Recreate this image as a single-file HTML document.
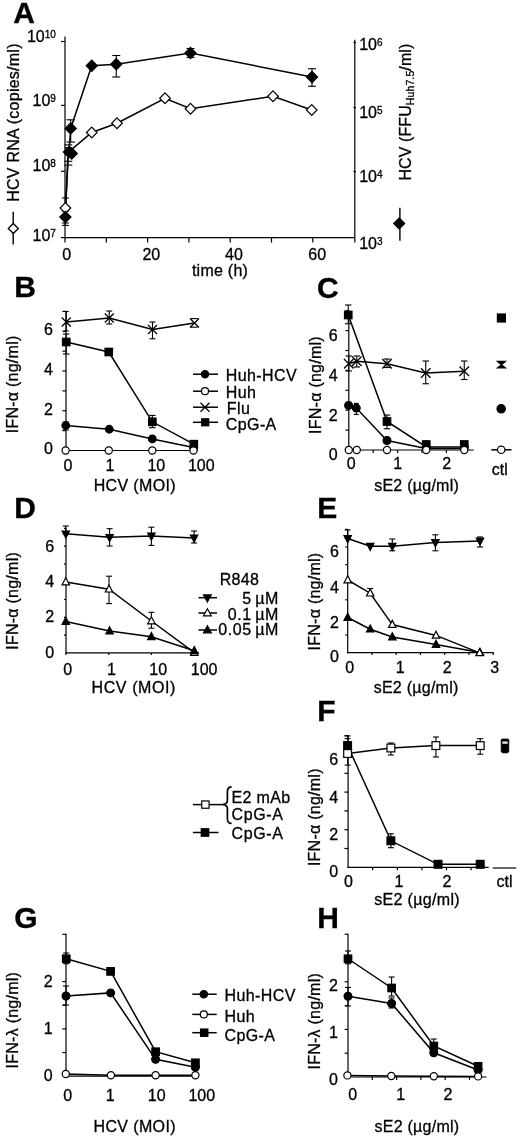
<!DOCTYPE html>
<html><head><meta charset="utf-8"><style>
html,body{margin:0;padding:0;background:#fff;}
svg{display:block;filter:blur(0.4px);}
</style></head><body>
<svg width="520" height="1141" viewBox="0 0 520 1141" stroke="#000" stroke-linecap="butt" font-family="'Liberation Sans', sans-serif" font-size="16">
<rect width="520" height="1141" fill="#fff" stroke="none"/>
<g stroke="none">
</g>
<text x="13.2" y="22.6" font-weight="bold" font-size="30" stroke="#000" stroke-width="0.3">A</text>
<line x1="65" y1="36.5" x2="65" y2="238.2" stroke-width="1.2"/>
<line x1="61" y1="41.5" x2="65" y2="41.5" stroke-width="1.2"/>
<line x1="61" y1="105.4" x2="65" y2="105.4" stroke-width="1.2"/>
<line x1="61" y1="171.3" x2="65" y2="171.3" stroke-width="1.2"/>
<line x1="61" y1="237.6" x2="65" y2="237.6" stroke-width="1.2"/>
<line x1="64.4" y1="237.6" x2="355.2" y2="237.6" stroke-width="1.2"/>
<line x1="65" y1="237.6" x2="65" y2="242.6" stroke-width="1.2"/>
<line x1="106.3" y1="237.6" x2="106.3" y2="242.6" stroke-width="1.2"/>
<line x1="147.6" y1="237.6" x2="147.6" y2="242.6" stroke-width="1.2"/>
<line x1="188.9" y1="237.6" x2="188.9" y2="242.6" stroke-width="1.2"/>
<line x1="230.2" y1="237.6" x2="230.2" y2="242.6" stroke-width="1.2"/>
<line x1="271.5" y1="237.6" x2="271.5" y2="242.6" stroke-width="1.2"/>
<line x1="312.8" y1="237.6" x2="312.8" y2="242.6" stroke-width="1.2"/>
<line x1="354.8" y1="39.8" x2="354.8" y2="242.4" stroke-width="1.2"/>
<line x1="353.5" y1="42.5" x2="356" y2="42.5" stroke-width="1.2"/>
<line x1="353.5" y1="107.6" x2="356" y2="107.6" stroke-width="1.2"/>
<line x1="353.5" y1="171.6" x2="356" y2="171.6" stroke-width="1.2"/>
<text x="55.9" y="42.4" text-anchor="end" stroke="#000" stroke-width="0.3">10<tspan font-size="10" dy="-4">10</tspan></text>
<text x="55.9" y="106.4" text-anchor="end" stroke="#000" stroke-width="0.3">10<tspan font-size="10" dy="-4">9</tspan></text>
<text x="55.9" y="171.4" text-anchor="end" stroke="#000" stroke-width="0.3">10<tspan font-size="10" dy="-4">8</tspan></text>
<text x="55.9" y="240.7" text-anchor="end" stroke="#000" stroke-width="0.3">10<tspan font-size="10" dy="-4">7</tspan></text>
<text x="359.2" y="50.4" stroke="#000" stroke-width="0.3">10<tspan font-size="10" dy="-4">6</tspan></text>
<text x="359.2" y="117.5" stroke="#000" stroke-width="0.3">10<tspan font-size="10" dy="-4">5</tspan></text>
<text x="359.2" y="182.4" stroke="#000" stroke-width="0.3">10<tspan font-size="10" dy="-4">4</tspan></text>
<text x="359.2" y="248.8" stroke="#000" stroke-width="0.3">10<tspan font-size="10" dy="-4">3</tspan></text>
<text x="66.6" y="259.9" text-anchor="middle" stroke="#000" stroke-width="0.3">0</text>
<text x="151.3" y="259.9" text-anchor="middle" stroke="#000" stroke-width="0.3">20</text>
<text x="234" y="259.9" text-anchor="middle" stroke="#000" stroke-width="0.3">40</text>
<text x="317.2" y="259.9" text-anchor="middle" stroke="#000" stroke-width="0.3">60</text>
<text x="220" y="276" text-anchor="middle" letter-spacing="0.25" stroke="#000" stroke-width="0.3">time (h)</text>
<text transform="translate(19 201.8) rotate(-90)" letter-spacing="0.25" stroke="#000" stroke-width="0.3">HCV RNA (copies/ml)</text>
<text transform="translate(411.1 180.6) rotate(-90)" letter-spacing="0.1" stroke="#000" stroke-width="0.3">HCV (FFU<tspan font-size="10.5" dy="3.3">Huh7.5</tspan><tspan dy="-3.3">/ml)</tspan></text>
<line x1="13.2" y1="211.7" x2="13.2" y2="244.6" stroke-width="1.4"/>
<polygon points="13.3,223.5 18.3,228.5 13.3,233.5 8.3,228.5" fill="#fff" stroke-width="1.3"/>
<line x1="399.9" y1="207.8" x2="399.9" y2="240.7" stroke-width="1.4"/>
<polygon points="399.2,218 404.7,223.5 399.2,229 393.7,223.5" fill="#000" stroke-width="1.2"/>
<polyline points="65.4,208 68.5,152.2 91.75,132.5 117,123.25 165,98.25 190.5,108.75 273,96.25 311.75,110" fill="none" stroke-width="1.5"/>
<polyline points="65.4,217 67.7,160 69,152" fill="none" stroke-width="1.5"/>
<polyline points="69,152 70.7,128.4 91.75,65.75 116.25,64.25 190.5,53 312,77" fill="none" stroke-width="1.5"/>
<line x1="61.9" y1="198" x2="68.9" y2="198" stroke-width="1.1"/>
<line x1="65.4" y1="198" x2="65.4" y2="208" stroke-width="1.1"/>
<line x1="65.4" y1="211" x2="65.4" y2="225.4" stroke-width="1.1"/>
<line x1="61.9" y1="211" x2="68.9" y2="211" stroke-width="1.1"/>
<line x1="61.9" y1="225.4" x2="68.9" y2="225.4" stroke-width="1.1"/>
<line x1="61.9" y1="223" x2="68.9" y2="223" stroke-width="1.1"/>
<line x1="70.7" y1="119.8" x2="70.7" y2="142.1" stroke-width="1.1"/>
<line x1="66.45" y1="119.8" x2="74.95" y2="119.8" stroke-width="1.1"/>
<line x1="66.45" y1="142.1" x2="74.95" y2="142.1" stroke-width="1.1"/>
<line x1="64.3" y1="144.9" x2="72.3" y2="144.9" stroke-width="1.1"/>
<line x1="64.3" y1="147.8" x2="72.3" y2="147.8" stroke-width="1.1"/>
<line x1="64.3" y1="161.3" x2="72.3" y2="161.3" stroke-width="1.1"/>
<line x1="64.3" y1="165.1" x2="72.3" y2="165.1" stroke-width="1.1"/>
<line x1="116.25" y1="55.5" x2="116.25" y2="77" stroke-width="1.1"/>
<line x1="112.25" y1="55.5" x2="120.25" y2="55.5" stroke-width="1.1"/>
<line x1="112.25" y1="77" x2="120.25" y2="77" stroke-width="1.1"/>
<line x1="190.5" y1="48.5" x2="190.5" y2="57.5" stroke-width="1.1"/>
<line x1="186.5" y1="48.5" x2="194.5" y2="48.5" stroke-width="1.1"/>
<line x1="186.5" y1="57.5" x2="194.5" y2="57.5" stroke-width="1.1"/>
<line x1="312" y1="68.75" x2="312" y2="86.25" stroke-width="1.1"/>
<line x1="308" y1="68.75" x2="316" y2="68.75" stroke-width="1.1"/>
<line x1="308" y1="86.25" x2="316" y2="86.25" stroke-width="1.1"/>
<polygon points="65.4,202.7 70.7,208 65.4,213.3 60.1,208" fill="#fff" stroke-width="1.2"/>
<polygon points="91.75,127.2 97.05,132.5 91.75,137.8 86.45,132.5" fill="#fff" stroke-width="1.2"/>
<polygon points="117,117.95 122.3,123.25 117,128.55 111.7,123.25" fill="#fff" stroke-width="1.2"/>
<polygon points="165,92.95 170.3,98.25 165,103.55 159.7,98.25" fill="#fff" stroke-width="1.2"/>
<polygon points="190.5,103.45 195.8,108.75 190.5,114.05 185.2,108.75" fill="#fff" stroke-width="1.2"/>
<polygon points="273,90.95 278.3,96.25 273,101.55 267.7,96.25" fill="#fff" stroke-width="1.2"/>
<polygon points="311.75,104.7 317.05,110 311.75,115.3 306.45,110" fill="#fff" stroke-width="1.2"/>
<polygon points="65.4,211.4 71,217 65.4,222.6 59.8,217" fill="#000" stroke-width="1.2"/>
<polygon points="69,146.4 74.6,152 69,157.6 63.4,152" fill="#000" stroke-width="1.2"/>
<polygon points="70.7,122.8 76.3,128.4 70.7,134 65.1,128.4" fill="#000" stroke-width="1.2"/>
<polygon points="91.75,60.15 97.35,65.75 91.75,71.35 86.15,65.75" fill="#000" stroke-width="1.2"/>
<polygon points="116.25,58.65 121.85,64.25 116.25,69.85 110.65,64.25" fill="#000" stroke-width="1.2"/>
<polygon points="190.5,47.4 196.1,53 190.5,58.6 184.9,53" fill="#000" stroke-width="1.2"/>
<polygon points="312,71.4 317.6,77 312,82.6 306.4,77" fill="#000" stroke-width="1.2"/>
<polygon points="71.7,147.9 77.3,153.5 71.7,159.1 66.1,153.5" fill="#000" stroke-width="1.2"/>
<text x="14.3" y="297.2" font-weight="bold" font-size="30" stroke="#000" stroke-width="0.3">B</text>
<line x1="66" y1="310.88" x2="66" y2="451.1" stroke-width="1.2"/>
<line x1="62.4" y1="430.62" x2="66" y2="430.62" stroke-width="1.2"/>
<line x1="62.4" y1="410.75" x2="66" y2="410.75" stroke-width="1.2"/>
<line x1="62.4" y1="390.88" x2="66" y2="390.88" stroke-width="1.2"/>
<line x1="62.4" y1="371" x2="66" y2="371" stroke-width="1.2"/>
<line x1="62.4" y1="351.12" x2="66" y2="351.12" stroke-width="1.2"/>
<line x1="62.4" y1="331.25" x2="66" y2="331.25" stroke-width="1.2"/>
<line x1="62.4" y1="311.38" x2="66" y2="311.38" stroke-width="1.2"/>
<line x1="65.4" y1="450.5" x2="197.7" y2="450.5" stroke-width="1.2"/>
<line x1="109" y1="450.5" x2="109" y2="453" stroke-width="1.2"/>
<line x1="152.3" y1="450.5" x2="152.3" y2="453" stroke-width="1.2"/>
<line x1="193.6" y1="450.5" x2="193.6" y2="453" stroke-width="1.2"/>
<text x="53" y="334.8" text-anchor="end" stroke="#000" stroke-width="0.3">6</text>
<text x="53" y="375.2" text-anchor="end" stroke="#000" stroke-width="0.3">4</text>
<text x="53" y="414.6" text-anchor="end" stroke="#000" stroke-width="0.3">2</text>
<text x="53" y="453.6" text-anchor="end" stroke="#000" stroke-width="0.3">0</text>
<text transform="translate(18.2 433.3) rotate(-90)" letter-spacing="0.25" stroke="#000" stroke-width="0.3">IFN-α (ng/ml)</text>
<text x="63.57" y="470.5" stroke="#000" stroke-width="0.3">0</text>
<text x="105.58" y="470.5" stroke="#000" stroke-width="0.3">1</text>
<text x="147.38" y="470.5" stroke="#000" stroke-width="0.3">10</text>
<text x="187.98" y="470.5" stroke="#000" stroke-width="0.3">100</text>
<text x="93.7" y="491.1" letter-spacing="0.36" stroke="#000" stroke-width="0.3">HCV (MOI)</text>
<line x1="193" y1="374.2" x2="218" y2="374.2" stroke-width="1.5"/>
<circle cx="205" cy="374.2" r="3.6" fill="#000" stroke-width="1.2"/>
<line x1="193" y1="391.2" x2="218" y2="391.2" stroke-width="1.5"/>
<circle cx="205" cy="391.2" r="3.5" fill="#fff" stroke-width="1.2"/>
<line x1="193" y1="407.2" x2="218" y2="407.2" stroke-width="1.5"/>
<line x1="200.5" y1="402.7" x2="209.5" y2="411.7" stroke-width="1.3"/>
<line x1="200.5" y1="411.7" x2="209.5" y2="402.7" stroke-width="1.3"/>
<line x1="193" y1="422.3" x2="218" y2="422.3" stroke-width="1.5"/>
<rect x="201.7" y="418.8" width="7" height="7" fill="#000" stroke-width="1.2"/>
<text x="225.8" y="381" letter-spacing="0.4" stroke="#000" stroke-width="0.3">Huh-HCV</text>
<text x="225.8" y="398" letter-spacing="0.4" stroke="#000" stroke-width="0.3">Huh</text>
<text x="226.8" y="414" letter-spacing="0.4" stroke="#000" stroke-width="0.3">Flu</text>
<text x="225.8" y="430" letter-spacing="0.4" stroke="#000" stroke-width="0.3">CpG-A</text>
<polyline points="66.25,322 109.25,318 152.5,329.5 194.5,323" fill="none" stroke-width="1.5"/>
<polyline points="66.25,342 108.75,352 152.3,421.8 193.8,444.2" fill="none" stroke-width="1.5"/>
<polyline points="65.75,425.5 109.25,429.25 152.3,438.9 193.6,447.5" fill="none" stroke-width="1.5"/>
<line x1="66.25" y1="311.5" x2="66.25" y2="331" stroke-width="1.1"/>
<line x1="63.75" y1="311.5" x2="68.75" y2="311.5" stroke-width="1.1"/>
<line x1="63.75" y1="331" x2="68.75" y2="331" stroke-width="1.1"/>
<line x1="109.25" y1="311" x2="109.25" y2="324" stroke-width="1.1"/>
<line x1="106.25" y1="311" x2="112.25" y2="311" stroke-width="1.1"/>
<line x1="106.25" y1="324" x2="112.25" y2="324" stroke-width="1.1"/>
<line x1="152.5" y1="322" x2="152.5" y2="338.75" stroke-width="1.1"/>
<line x1="149.5" y1="322" x2="155.5" y2="322" stroke-width="1.1"/>
<line x1="149.5" y1="338.75" x2="155.5" y2="338.75" stroke-width="1.1"/>
<line x1="190.7" y1="318.6" x2="197.7" y2="318.6" stroke-width="1.1"/>
<line x1="190.7" y1="327.2" x2="197.7" y2="327.2" stroke-width="1.1"/>
<line x1="66.25" y1="334" x2="66.25" y2="354" stroke-width="1.1"/>
<line x1="63" y1="334" x2="69.5" y2="334" stroke-width="1.1"/>
<line x1="63" y1="354" x2="69.5" y2="354" stroke-width="1.1"/>
<line x1="152.3" y1="415.4" x2="152.3" y2="427.7" stroke-width="1.1"/>
<line x1="149.05" y1="415.4" x2="155.55" y2="415.4" stroke-width="1.1"/>
<line x1="149.05" y1="427.7" x2="155.55" y2="427.7" stroke-width="1.1"/>
<line x1="65.75" y1="422" x2="65.75" y2="430" stroke-width="1.1"/>
<line x1="62.75" y1="422" x2="68.75" y2="422" stroke-width="1.1"/>
<line x1="62.75" y1="430" x2="68.75" y2="430" stroke-width="1.1"/>
<line x1="61.75" y1="317.5" x2="70.75" y2="326.5" stroke-width="1.3"/>
<line x1="61.75" y1="326.5" x2="70.75" y2="317.5" stroke-width="1.3"/>
<line x1="104.75" y1="313.5" x2="113.75" y2="322.5" stroke-width="1.3"/>
<line x1="104.75" y1="322.5" x2="113.75" y2="313.5" stroke-width="1.3"/>
<line x1="148" y1="325" x2="157" y2="334" stroke-width="1.3"/>
<line x1="148" y1="334" x2="157" y2="325" stroke-width="1.3"/>
<line x1="190" y1="318.5" x2="199" y2="327.5" stroke-width="1.3"/>
<line x1="190" y1="327.5" x2="199" y2="318.5" stroke-width="1.3"/>
<rect x="62.5" y="338.25" width="7.5" height="7.5" fill="#000" stroke-width="1.2"/>
<rect x="105" y="348.25" width="7.5" height="7.5" fill="#000" stroke-width="1.2"/>
<rect x="148.55" y="418.05" width="7.5" height="7.5" fill="#000" stroke-width="1.2"/>
<rect x="190.05" y="440.45" width="7.5" height="7.5" fill="#000" stroke-width="1.2"/>
<circle cx="65.75" cy="425.5" r="3.8" fill="#000" stroke-width="1.2"/>
<circle cx="109.25" cy="429.25" r="3.8" fill="#000" stroke-width="1.2"/>
<circle cx="152.3" cy="438.9" r="3.8" fill="#000" stroke-width="1.2"/>
<circle cx="193.6" cy="447.5" r="3.8" fill="#000" stroke-width="1.2"/>
<circle cx="65.6" cy="450.5" r="3.6" fill="#fff" stroke-width="1.2"/>
<circle cx="108.8" cy="450.5" r="3.6" fill="#fff" stroke-width="1.2"/>
<circle cx="152.3" cy="450.5" r="3.6" fill="#fff" stroke-width="1.2"/>
<circle cx="193.5" cy="450.5" r="3.6" fill="#fff" stroke-width="1.2"/>
<text x="316.9" y="297.5" font-weight="bold" font-size="30" stroke="#000" stroke-width="0.3">C</text>
<line x1="348.8" y1="310.2" x2="348.8" y2="450.6" stroke-width="1.2"/>
<line x1="345.4" y1="430.1" x2="348.8" y2="430.1" stroke-width="1.2"/>
<line x1="345.4" y1="410.2" x2="348.8" y2="410.2" stroke-width="1.2"/>
<line x1="345.4" y1="390.3" x2="348.8" y2="390.3" stroke-width="1.2"/>
<line x1="345.4" y1="370.4" x2="348.8" y2="370.4" stroke-width="1.2"/>
<line x1="345.4" y1="350.5" x2="348.8" y2="350.5" stroke-width="1.2"/>
<line x1="345.4" y1="330.6" x2="348.8" y2="330.6" stroke-width="1.2"/>
<line x1="345.4" y1="310.7" x2="348.8" y2="310.7" stroke-width="1.2"/>
<line x1="348.2" y1="450" x2="473.6" y2="450" stroke-width="1.2"/>
<line x1="373.2" y1="450" x2="373.2" y2="453" stroke-width="1.2"/>
<line x1="397.6" y1="450" x2="397.6" y2="453" stroke-width="1.2"/>
<line x1="422" y1="450" x2="422" y2="453" stroke-width="1.2"/>
<line x1="446.4" y1="450" x2="446.4" y2="453" stroke-width="1.2"/>
<text x="337.6" y="341.4" text-anchor="end" stroke="#000" stroke-width="0.3">6</text>
<text x="337.6" y="381.2" text-anchor="end" stroke="#000" stroke-width="0.3">4</text>
<text x="337.6" y="420.8" text-anchor="end" stroke="#000" stroke-width="0.3">2</text>
<text x="337.6" y="460.2" text-anchor="end" stroke="#000" stroke-width="0.3">0</text>
<text transform="translate(320.8 433.9) rotate(-90)" letter-spacing="0.25" stroke="#000" stroke-width="0.3">IFN-α (ng/ml)</text>
<text x="346.87" y="468.9" stroke="#000" stroke-width="0.3">0</text>
<text x="393.28" y="468.9" stroke="#000" stroke-width="0.3">1</text>
<text x="442.2" y="468.9" stroke="#000" stroke-width="0.3">2</text>
<text x="374.2" y="490.6" letter-spacing="0.25" stroke="#000" stroke-width="0.3">sE2 (µg/ml)</text>
<rect x="497.4" y="314" width="8" height="8" fill="#000" stroke-width="1.2"/>
<polygon points="497.3,361.4 505.6,361.4 501.45,364.7 505.6,368 497.3,368 501.45,364.7" fill="#000" stroke-width="1.1"/>
<circle cx="501.2" cy="408.8" r="4.2" fill="#000" stroke-width="1.2"/>
<line x1="491.3" y1="449.8" x2="511.5" y2="449.8" stroke-width="1.5"/>
<circle cx="501.2" cy="449.8" r="3.7" fill="#fff" stroke-width="1.2"/>
<text x="491.8" y="474.6" stroke="#000" stroke-width="0.3">ctl</text>
<polyline points="348.25,315 387,421.5 426.25,446.9 464.25,446.9" fill="none" stroke-width="1.5"/>
<polyline points="348.75,363.75 356.75,361.25 387,363.75 425.75,373 464.25,371.25" fill="none" stroke-width="1.5"/>
<polyline points="348.6,405.4 356.3,408.1 387,440.5 426.25,448.4 464.25,448.4" fill="none" stroke-width="1.5"/>
<line x1="348.25" y1="305" x2="348.25" y2="323.75" stroke-width="1.1"/>
<line x1="345" y1="305" x2="351.5" y2="305" stroke-width="1.1"/>
<line x1="345" y1="323.75" x2="351.5" y2="323.75" stroke-width="1.1"/>
<line x1="387" y1="415" x2="387" y2="428.75" stroke-width="1.1"/>
<line x1="383.75" y1="415" x2="390.25" y2="415" stroke-width="1.1"/>
<line x1="383.75" y1="428.75" x2="390.25" y2="428.75" stroke-width="1.1"/>
<line x1="348.75" y1="356" x2="348.75" y2="371" stroke-width="1.1"/>
<line x1="345.5" y1="356" x2="352" y2="356" stroke-width="1.1"/>
<line x1="345.5" y1="371" x2="352" y2="371" stroke-width="1.1"/>
<line x1="356.75" y1="356" x2="356.75" y2="367" stroke-width="1.1"/>
<line x1="353.5" y1="356" x2="360" y2="356" stroke-width="1.1"/>
<line x1="353.5" y1="367" x2="360" y2="367" stroke-width="1.1"/>
<line x1="387" y1="359" x2="387" y2="367.5" stroke-width="1.1"/>
<line x1="383.75" y1="359" x2="390.25" y2="359" stroke-width="1.1"/>
<line x1="383.75" y1="367.5" x2="390.25" y2="367.5" stroke-width="1.1"/>
<line x1="425.75" y1="361" x2="425.75" y2="383.75" stroke-width="1.1"/>
<line x1="422.5" y1="361" x2="429" y2="361" stroke-width="1.1"/>
<line x1="422.5" y1="383.75" x2="429" y2="383.75" stroke-width="1.1"/>
<line x1="464.25" y1="361" x2="464.25" y2="379.5" stroke-width="1.1"/>
<line x1="461" y1="361" x2="467.5" y2="361" stroke-width="1.1"/>
<line x1="461" y1="379.5" x2="467.5" y2="379.5" stroke-width="1.1"/>
<line x1="356.3" y1="403.4" x2="356.3" y2="414.5" stroke-width="1.1"/>
<line x1="353.8" y1="403.4" x2="358.8" y2="403.4" stroke-width="1.1"/>
<line x1="353.8" y1="414.5" x2="358.8" y2="414.5" stroke-width="1.1"/>
<line x1="343.95" y1="358.95" x2="353.55" y2="368.55" stroke-width="1.3"/>
<line x1="343.95" y1="368.55" x2="353.55" y2="358.95" stroke-width="1.3"/>
<line x1="351.95" y1="356.45" x2="361.55" y2="366.05" stroke-width="1.3"/>
<line x1="351.95" y1="366.05" x2="361.55" y2="356.45" stroke-width="1.3"/>
<line x1="382.2" y1="358.95" x2="391.8" y2="368.55" stroke-width="1.3"/>
<line x1="382.2" y1="368.55" x2="391.8" y2="358.95" stroke-width="1.3"/>
<line x1="420.95" y1="368.2" x2="430.55" y2="377.8" stroke-width="1.3"/>
<line x1="420.95" y1="377.8" x2="430.55" y2="368.2" stroke-width="1.3"/>
<line x1="459.45" y1="366.45" x2="469.05" y2="376.05" stroke-width="1.3"/>
<line x1="459.45" y1="376.05" x2="469.05" y2="366.45" stroke-width="1.3"/>
<rect x="344.5" y="311.25" width="7.5" height="7.5" fill="#000" stroke-width="1.2"/>
<rect x="383.25" y="417.75" width="7.5" height="7.5" fill="#000" stroke-width="1.2"/>
<rect x="422.5" y="440.75" width="7.5" height="7.5" fill="#000" stroke-width="1.2"/>
<rect x="460.5" y="440.75" width="7.5" height="7.5" fill="#000" stroke-width="1.2"/>
<circle cx="348.6" cy="405.4" r="3.9" fill="#000" stroke-width="1.2"/>
<circle cx="356.3" cy="408.1" r="3.9" fill="#000" stroke-width="1.2"/>
<circle cx="387" cy="440.5" r="3.9" fill="#000" stroke-width="1.2"/>
<circle cx="426.25" cy="447.3" r="3.9" fill="#000" stroke-width="1.2"/>
<circle cx="464.25" cy="447.3" r="3.9" fill="#000" stroke-width="1.2"/>
<circle cx="348.75" cy="450" r="3.6" fill="#fff" stroke-width="1.2"/>
<circle cx="356.75" cy="450" r="3.6" fill="#fff" stroke-width="1.2"/>
<circle cx="387" cy="450" r="3.6" fill="#fff" stroke-width="1.2"/>
<circle cx="426.25" cy="450" r="3.6" fill="#fff" stroke-width="1.2"/>
<circle cx="464.25" cy="450" r="3.6" fill="#fff" stroke-width="1.2"/>
<text x="14.3" y="517.5" font-weight="bold" font-size="30" stroke="#000" stroke-width="0.3">D</text>
<line x1="66" y1="527.8" x2="66" y2="653.5" stroke-width="1.2"/>
<line x1="64" y1="635.1" x2="66" y2="635.1" stroke-width="1.2"/>
<line x1="64" y1="617.3" x2="66" y2="617.3" stroke-width="1.2"/>
<line x1="64" y1="599.5" x2="66" y2="599.5" stroke-width="1.2"/>
<line x1="64" y1="581.7" x2="66" y2="581.7" stroke-width="1.2"/>
<line x1="64" y1="563.9" x2="66" y2="563.9" stroke-width="1.2"/>
<line x1="64" y1="546.1" x2="66" y2="546.1" stroke-width="1.2"/>
<line x1="64" y1="528.3" x2="66" y2="528.3" stroke-width="1.2"/>
<line x1="65.4" y1="652.9" x2="199" y2="652.9" stroke-width="1.2"/>
<line x1="66" y1="652.9" x2="66" y2="654.9" stroke-width="1.2"/>
<line x1="108.8" y1="652.9" x2="108.8" y2="654.9" stroke-width="1.2"/>
<line x1="151.4" y1="652.9" x2="151.4" y2="654.9" stroke-width="1.2"/>
<line x1="194.1" y1="652.9" x2="194.1" y2="654.9" stroke-width="1.2"/>
<text x="54.1" y="551.5" text-anchor="end" stroke="#000" stroke-width="0.3">6</text>
<text x="54.1" y="586.9" text-anchor="end" stroke="#000" stroke-width="0.3">4</text>
<text x="54.1" y="622.2" text-anchor="end" stroke="#000" stroke-width="0.3">2</text>
<text x="54.1" y="657.5" text-anchor="end" stroke="#000" stroke-width="0.3">0</text>
<text transform="translate(18.2 649.8) rotate(-90)" letter-spacing="0.25" stroke="#000" stroke-width="0.3">IFN-α (ng/ml)</text>
<text x="63.17" y="674.6" stroke="#000" stroke-width="0.3">0</text>
<text x="106.98" y="674.6" stroke="#000" stroke-width="0.3">1</text>
<text x="149.28" y="674.6" stroke="#000" stroke-width="0.3">10</text>
<text x="190.78" y="674.6" stroke="#000" stroke-width="0.3">100</text>
<text x="91.5" y="693.1" letter-spacing="0.6" stroke="#000" stroke-width="0.3">HCV (MOI)</text>
<text x="219.8" y="584.9" letter-spacing="0.25" stroke="#000" stroke-width="0.3">R848</text>
<line x1="198.5" y1="597.7" x2="217" y2="597.7" stroke-width="1.5"/>
<polygon points="207.4,601.9 211.3,594.9 203.5,594.9" fill="#000" stroke-width="1.2"/>
<line x1="198.5" y1="613" x2="217" y2="613" stroke-width="1.5"/>
<polygon points="207.4,608.8 211.3,615.8 203.5,615.8" fill="#fff" stroke-width="1.2"/>
<line x1="198.5" y1="630" x2="217" y2="630" stroke-width="1.5"/>
<polygon points="207.4,625.8 211.3,632.8 203.5,632.8" fill="#000" stroke-width="1.2"/>
<text x="251.7" y="604.4" text-anchor="end" letter-spacing="0.6" stroke="#000" stroke-width="0.3">5</text>
<text x="255.2" y="604.4" letter-spacing="0.6" stroke="#000" stroke-width="0.3">µM</text>
<text x="251.7" y="619.8" text-anchor="end" letter-spacing="0.6" stroke="#000" stroke-width="0.3">0.1</text>
<text x="255.2" y="619.8" letter-spacing="0.6" stroke="#000" stroke-width="0.3">µM</text>
<text x="251.7" y="635.2" text-anchor="end" letter-spacing="0.6" stroke="#000" stroke-width="0.3">0.05</text>
<text x="255.2" y="635.2" letter-spacing="0.6" stroke="#000" stroke-width="0.3">µM</text>
<polyline points="65.8,533.8 109.6,537.3 151.4,535.9 194.1,537.9" fill="none" stroke-width="1.5"/>
<polyline points="65.8,582 109,589.2 151.4,621 194.3,652.6" fill="none" stroke-width="1.5"/>
<polyline points="65.8,621.5 109.6,631 151.4,636.8 194.3,650.8" fill="none" stroke-width="1.5"/>
<line x1="65.8" y1="526" x2="65.8" y2="534" stroke-width="1.1"/>
<line x1="62.8" y1="526" x2="68.8" y2="526" stroke-width="1.1"/>
<line x1="62.8" y1="534" x2="68.8" y2="534" stroke-width="1.1"/>
<line x1="109.6" y1="528.7" x2="109.6" y2="546" stroke-width="1.1"/>
<line x1="106.6" y1="528.7" x2="112.6" y2="528.7" stroke-width="1.1"/>
<line x1="106.6" y1="546" x2="112.6" y2="546" stroke-width="1.1"/>
<line x1="151.4" y1="527.2" x2="151.4" y2="545.4" stroke-width="1.1"/>
<line x1="148.4" y1="527.2" x2="154.4" y2="527.2" stroke-width="1.1"/>
<line x1="148.4" y1="545.4" x2="154.4" y2="545.4" stroke-width="1.1"/>
<line x1="194.1" y1="531" x2="194.1" y2="543" stroke-width="1.1"/>
<line x1="191.1" y1="531" x2="197.1" y2="531" stroke-width="1.1"/>
<line x1="191.1" y1="543" x2="197.1" y2="543" stroke-width="1.1"/>
<line x1="109" y1="576.2" x2="109" y2="603.6" stroke-width="1.1"/>
<line x1="106" y1="576.2" x2="112" y2="576.2" stroke-width="1.1"/>
<line x1="106" y1="603.6" x2="112" y2="603.6" stroke-width="1.1"/>
<line x1="151.4" y1="612.3" x2="151.4" y2="628.2" stroke-width="1.1"/>
<line x1="148.4" y1="612.3" x2="154.4" y2="612.3" stroke-width="1.1"/>
<line x1="148.4" y1="628.2" x2="154.4" y2="628.2" stroke-width="1.1"/>
<polygon points="65.8,577.8 69.5,584.8 62.1,584.8" fill="#fff" stroke-width="1.2"/>
<polygon points="109,585 112.7,592 105.3,592" fill="#fff" stroke-width="1.2"/>
<polygon points="151.4,616.8 155.1,623.8 147.7,623.8" fill="#fff" stroke-width="1.2"/>
<polygon points="194.3,648.4 198,655.4 190.6,655.4" fill="#fff" stroke-width="1.2"/>
<polygon points="65.8,617.3 69.5,624.3 62.1,624.3" fill="#000" stroke-width="1.2"/>
<polygon points="109.6,626.8 113.3,633.8 105.9,633.8" fill="#000" stroke-width="1.2"/>
<polygon points="151.4,632.6 155.1,639.6 147.7,639.6" fill="#000" stroke-width="1.2"/>
<polygon points="194.3,646.6 198,653.6 190.6,653.6" fill="#000" stroke-width="1.2"/>
<polygon points="65.8,538 69.5,531 62.1,531" fill="#000" stroke-width="1.2"/>
<polygon points="109.6,541.5 113.3,534.5 105.9,534.5" fill="#000" stroke-width="1.2"/>
<polygon points="151.4,540.1 155.1,533.1 147.7,533.1" fill="#000" stroke-width="1.2"/>
<polygon points="194.1,542.1 197.8,535.1 190.4,535.1" fill="#000" stroke-width="1.2"/>
<text x="317.3" y="517.5" font-weight="bold" font-size="30" stroke="#000" stroke-width="0.3">E</text>
<line x1="347.7" y1="528.9" x2="347.7" y2="653.2" stroke-width="1.2"/>
<line x1="345.3" y1="635" x2="347.7" y2="635" stroke-width="1.2"/>
<line x1="345.3" y1="617.4" x2="347.7" y2="617.4" stroke-width="1.2"/>
<line x1="345.3" y1="599.8" x2="347.7" y2="599.8" stroke-width="1.2"/>
<line x1="345.3" y1="582.2" x2="347.7" y2="582.2" stroke-width="1.2"/>
<line x1="345.3" y1="564.6" x2="347.7" y2="564.6" stroke-width="1.2"/>
<line x1="345.3" y1="547" x2="347.7" y2="547" stroke-width="1.2"/>
<line x1="345.3" y1="529.4" x2="347.7" y2="529.4" stroke-width="1.2"/>
<line x1="347.1" y1="652.6" x2="493.8" y2="652.6" stroke-width="1.2"/>
<line x1="371.95" y1="652.6" x2="371.95" y2="655.1" stroke-width="1.2"/>
<line x1="396.2" y1="652.6" x2="396.2" y2="655.1" stroke-width="1.2"/>
<line x1="420.45" y1="652.6" x2="420.45" y2="655.1" stroke-width="1.2"/>
<line x1="444.7" y1="652.6" x2="444.7" y2="655.1" stroke-width="1.2"/>
<line x1="468.95" y1="652.6" x2="468.95" y2="655.1" stroke-width="1.2"/>
<line x1="493.2" y1="652.6" x2="493.2" y2="655.1" stroke-width="1.2"/>
<text x="338.9" y="557.2" text-anchor="end" stroke="#000" stroke-width="0.3">6</text>
<text x="338.9" y="592.8" text-anchor="end" stroke="#000" stroke-width="0.3">4</text>
<text x="338.9" y="627.6" text-anchor="end" stroke="#000" stroke-width="0.3">2</text>
<text x="338.9" y="661.9" text-anchor="end" stroke="#000" stroke-width="0.3">0</text>
<text transform="translate(320.2 650.4) rotate(-90)" letter-spacing="0.25" stroke="#000" stroke-width="0.3">IFN-α (ng/ml)</text>
<text x="345.17" y="673.2" stroke="#000" stroke-width="0.3">0</text>
<text x="395.78" y="673.2" stroke="#000" stroke-width="0.3">1</text>
<text x="442.7" y="673.2" stroke="#000" stroke-width="0.3">2</text>
<text x="490.19" y="673.2" stroke="#000" stroke-width="0.3">3</text>
<text x="373.7" y="692.6" letter-spacing="0.25" stroke="#000" stroke-width="0.3">sE2 (µg/ml)</text>
<polyline points="347.7,538.5 370.2,546.2 392.3,546.2 435.4,542.5 480,541" fill="none" stroke-width="1.5"/>
<polyline points="347.7,580 370.2,593.2 392.3,624.6 436,635.4 479.6,652.9" fill="none" stroke-width="1.5"/>
<polyline points="347.7,617.5 370.2,629.2 392.3,637 436,644.6 480,652.6" fill="none" stroke-width="1.5"/>
<line x1="392.3" y1="539" x2="392.3" y2="550.8" stroke-width="1.1"/>
<line x1="389.3" y1="539" x2="395.3" y2="539" stroke-width="1.1"/>
<line x1="389.3" y1="550.8" x2="395.3" y2="550.8" stroke-width="1.1"/>
<line x1="435.4" y1="534.8" x2="435.4" y2="550.8" stroke-width="1.1"/>
<line x1="432.4" y1="534.8" x2="438.4" y2="534.8" stroke-width="1.1"/>
<line x1="432.4" y1="550.8" x2="438.4" y2="550.8" stroke-width="1.1"/>
<line x1="480" y1="537" x2="480" y2="547" stroke-width="1.1"/>
<line x1="477" y1="537" x2="483" y2="537" stroke-width="1.1"/>
<line x1="477" y1="547" x2="483" y2="547" stroke-width="1.1"/>
<line x1="347.7" y1="530" x2="347.7" y2="538" stroke-width="1.1"/>
<line x1="344.7" y1="530" x2="350.7" y2="530" stroke-width="1.1"/>
<line x1="344.7" y1="538" x2="350.7" y2="538" stroke-width="1.1"/>
<line x1="367.2" y1="588.5" x2="373.2" y2="588.5" stroke-width="1.1"/>
<line x1="370.2" y1="588.5" x2="370.2" y2="593" stroke-width="1.1"/>
<polygon points="347.7,613.3 351.4,620.3 344,620.3" fill="#000" stroke-width="1.2"/>
<polygon points="370.2,625 373.9,632 366.5,632" fill="#000" stroke-width="1.2"/>
<polygon points="392.3,632.8 396,639.8 388.6,639.8" fill="#000" stroke-width="1.2"/>
<polygon points="436,640.4 439.7,647.4 432.3,647.4" fill="#000" stroke-width="1.2"/>
<polygon points="480,648.4 483.7,655.4 476.3,655.4" fill="#000" stroke-width="1.2"/>
<polygon points="347.7,575.8 351.4,582.8 344,582.8" fill="#fff" stroke-width="1.2"/>
<polygon points="370.2,589 373.9,596 366.5,596" fill="#fff" stroke-width="1.2"/>
<polygon points="392.3,620.4 396,627.4 388.6,627.4" fill="#fff" stroke-width="1.2"/>
<polygon points="436,631.2 439.7,638.2 432.3,638.2" fill="#fff" stroke-width="1.2"/>
<polygon points="479.6,648.7 483.3,655.7 475.9,655.7" fill="#fff" stroke-width="1.2"/>
<polygon points="347.7,542.7 351.4,535.7 344,535.7" fill="#000" stroke-width="1.2"/>
<polygon points="370.2,550.4 373.9,543.4 366.5,543.4" fill="#000" stroke-width="1.2"/>
<polygon points="392.3,550.4 396,543.4 388.6,543.4" fill="#000" stroke-width="1.2"/>
<polygon points="435.4,546.7 439.1,539.7 431.7,539.7" fill="#000" stroke-width="1.2"/>
<polygon points="480,545.2 483.7,538.2 476.3,538.2" fill="#000" stroke-width="1.2"/>
<text x="317.3" y="721.4" font-weight="bold" font-size="30" stroke="#000" stroke-width="0.3">F</text>
<line x1="348.1" y1="735.2" x2="348.1" y2="867.9" stroke-width="1.2"/>
<line x1="344.4" y1="848.5" x2="348.1" y2="848.5" stroke-width="1.2"/>
<line x1="344.4" y1="829.7" x2="348.1" y2="829.7" stroke-width="1.2"/>
<line x1="344.4" y1="810.9" x2="348.1" y2="810.9" stroke-width="1.2"/>
<line x1="344.4" y1="792.1" x2="348.1" y2="792.1" stroke-width="1.2"/>
<line x1="344.4" y1="773.3" x2="348.1" y2="773.3" stroke-width="1.2"/>
<line x1="344.4" y1="754.5" x2="348.1" y2="754.5" stroke-width="1.2"/>
<line x1="344.4" y1="735.7" x2="348.1" y2="735.7" stroke-width="1.2"/>
<line x1="347.5" y1="867.3" x2="488.6" y2="867.3" stroke-width="1.2"/>
<line x1="492.7" y1="868" x2="516.3" y2="868" stroke-width="1.2"/>
<line x1="372.7" y1="867.3" x2="372.7" y2="870.3" stroke-width="1.2"/>
<line x1="397.3" y1="867.3" x2="397.3" y2="870.3" stroke-width="1.2"/>
<line x1="421.9" y1="867.3" x2="421.9" y2="870.3" stroke-width="1.2"/>
<line x1="446.5" y1="867.3" x2="446.5" y2="870.3" stroke-width="1.2"/>
<line x1="471.1" y1="867.3" x2="471.1" y2="870.3" stroke-width="1.2"/>
<text x="338.2" y="764.8" text-anchor="end" stroke="#000" stroke-width="0.3">6</text>
<text x="338.2" y="802.8" text-anchor="end" stroke="#000" stroke-width="0.3">4</text>
<text x="338.2" y="840.2" text-anchor="end" stroke="#000" stroke-width="0.3">2</text>
<text x="338.2" y="876.8" text-anchor="end" stroke="#000" stroke-width="0.3">0</text>
<text transform="translate(320.2 866.1) rotate(-90)" letter-spacing="0.25" stroke="#000" stroke-width="0.3">IFN-α (ng/ml)</text>
<text x="343.97" y="886.6" stroke="#000" stroke-width="0.3">0</text>
<text x="394.58" y="886.6" stroke="#000" stroke-width="0.3">1</text>
<text x="442.5" y="886.6" stroke="#000" stroke-width="0.3">2</text>
<text x="496.6" y="886.6" stroke="#000" stroke-width="0.3">ctl</text>
<text x="374.2" y="905.3" letter-spacing="0.33" stroke="#000" stroke-width="0.3">sE2 (µg/ml)</text>
<line x1="192.9" y1="804.6" x2="223.7" y2="804.6" stroke-width="1.5"/>
<rect x="201.75" y="800.95" width="7.3" height="7.3" fill="#fff" stroke-width="1.2"/>
<path d="M231.6,786.9 C228.2,786.9 227.4,788.6 227.4,792 L227.4,800.6 C227.4,803.2 225.6,804.3 223,804.6 C225.6,804.9 227.4,806 227.4,808.6 L227.4,818.4 C227.4,821.8 228.2,823.3 231.6,823.3" fill="none" stroke-width="1.7"/>
<text x="231.5" y="803.3" letter-spacing="0.35" stroke="#000" stroke-width="0.3">E2 mAb</text>
<text x="231.5" y="820.2" letter-spacing="0.6" stroke="#000" stroke-width="0.3">CpG-A</text>
<line x1="192.9" y1="832.5" x2="218.5" y2="832.5" stroke-width="1.5"/>
<rect x="201.25" y="828.75" width="7.5" height="7.5" fill="#000" stroke-width="1.2"/>
<text x="231.5" y="839.4" letter-spacing="0.6" stroke="#000" stroke-width="0.3">CpG-A</text>
<polyline points="347.6,753.5 390.9,748 435.9,745.6 480.2,745.6" fill="none" stroke-width="1.5"/>
<polyline points="347.6,745.6 390.9,840.8 438,864.3 480.2,864.3" fill="none" stroke-width="1.5"/>
<line x1="347.6" y1="735.9" x2="347.6" y2="765.1" stroke-width="1.1"/>
<line x1="344.6" y1="735.9" x2="350.6" y2="735.9" stroke-width="1.1"/>
<line x1="344.6" y1="765.1" x2="350.6" y2="765.1" stroke-width="1.1"/>
<line x1="344.6" y1="738.6" x2="350.6" y2="738.6" stroke-width="1.1"/>
<line x1="390.9" y1="743" x2="390.9" y2="755" stroke-width="1.1"/>
<line x1="387.9" y1="743" x2="393.9" y2="743" stroke-width="1.1"/>
<line x1="387.9" y1="755" x2="393.9" y2="755" stroke-width="1.1"/>
<line x1="435.9" y1="737" x2="435.9" y2="757" stroke-width="1.1"/>
<line x1="432.9" y1="737" x2="438.9" y2="737" stroke-width="1.1"/>
<line x1="432.9" y1="757" x2="438.9" y2="757" stroke-width="1.1"/>
<line x1="480.2" y1="738.7" x2="480.2" y2="754.2" stroke-width="1.1"/>
<line x1="477.2" y1="738.7" x2="483.2" y2="738.7" stroke-width="1.1"/>
<line x1="477.2" y1="754.2" x2="483.2" y2="754.2" stroke-width="1.1"/>
<line x1="390.9" y1="833.8" x2="390.9" y2="847.7" stroke-width="1.1"/>
<line x1="387.9" y1="833.8" x2="393.9" y2="833.8" stroke-width="1.1"/>
<line x1="387.9" y1="847.7" x2="393.9" y2="847.7" stroke-width="1.1"/>
<rect x="501.2" y="739" width="7.6" height="13.4" rx="1.2" fill="#000" stroke-width="0.8"/>
<rect x="502.4" y="741.6" width="5.2" height="2.1" fill="#fff" stroke="none"/>
<line x1="502.5" y1="752.8" x2="507.5" y2="752.8" stroke-width="1.1"/>
<rect x="343.7" y="741.7" width="7.8" height="7.8" fill="#000" stroke-width="1.2"/>
<rect x="387" y="836.9" width="7.8" height="7.8" fill="#000" stroke-width="1.2"/>
<rect x="434.1" y="860.4" width="7.8" height="7.8" fill="#000" stroke-width="1.2"/>
<rect x="476.3" y="860.4" width="7.8" height="7.8" fill="#000" stroke-width="1.2"/>
<rect x="343.7" y="749.6" width="7.8" height="7.8" fill="#fff" stroke-width="1.2"/>
<rect x="387" y="744.1" width="7.8" height="7.8" fill="#fff" stroke-width="1.2"/>
<rect x="432" y="741.7" width="7.8" height="7.8" fill="#fff" stroke-width="1.2"/>
<rect x="476.3" y="741.7" width="7.8" height="7.8" fill="#fff" stroke-width="1.2"/>
<text x="14.2" y="927.5" font-weight="bold" font-size="30" stroke="#000" stroke-width="0.3">G</text>
<line x1="66" y1="933.8" x2="66" y2="1076.8" stroke-width="1.2"/>
<line x1="62.3" y1="1052.55" x2="66" y2="1052.55" stroke-width="1.2"/>
<line x1="62.3" y1="1028.9" x2="66" y2="1028.9" stroke-width="1.2"/>
<line x1="62.3" y1="1005.25" x2="66" y2="1005.25" stroke-width="1.2"/>
<line x1="62.3" y1="981.6" x2="66" y2="981.6" stroke-width="1.2"/>
<line x1="62.3" y1="957.95" x2="66" y2="957.95" stroke-width="1.2"/>
<line x1="62.3" y1="934.3" x2="66" y2="934.3" stroke-width="1.2"/>
<line x1="65.4" y1="1076.2" x2="199" y2="1076.2" stroke-width="1.2"/>
<line x1="110.6" y1="1076.2" x2="110.6" y2="1078.2" stroke-width="1.2"/>
<line x1="155.6" y1="1076.2" x2="155.6" y2="1078.2" stroke-width="1.2"/>
<line x1="195.4" y1="1076.2" x2="195.4" y2="1078.2" stroke-width="1.2"/>
<text x="52.7" y="986.7" text-anchor="end" stroke="#000" stroke-width="0.3">2</text>
<text x="52.7" y="1034.3" text-anchor="end" stroke="#000" stroke-width="0.3">1</text>
<text x="52.7" y="1080.6" text-anchor="end" stroke="#000" stroke-width="0.3">0</text>
<text transform="translate(17.8 1068.4) rotate(-90)" letter-spacing="0.25" stroke="#000" stroke-width="0.3">IFN-λ (ng/ml)</text>
<text x="63.17" y="1100.9" stroke="#000" stroke-width="0.3">0</text>
<text x="105.78" y="1100.9" stroke="#000" stroke-width="0.3">1</text>
<text x="147.78" y="1100.9" stroke="#000" stroke-width="0.3">10</text>
<text x="188.38" y="1100.9" stroke="#000" stroke-width="0.3">100</text>
<text x="93.5" y="1131.9" letter-spacing="0.37" stroke="#000" stroke-width="0.3">HCV (MOI)</text>
<line x1="192.3" y1="994.2" x2="216.7" y2="994.2" stroke-width="1.5"/>
<circle cx="203.8" cy="994.2" r="3.7" fill="#000" stroke-width="1.2"/>
<line x1="192.3" y1="1014.4" x2="216.7" y2="1014.4" stroke-width="1.5"/>
<circle cx="203.8" cy="1014.4" r="3.5" fill="#fff" stroke-width="1.2"/>
<line x1="192.3" y1="1032.7" x2="216.7" y2="1032.7" stroke-width="1.5"/>
<rect x="200.55" y="1029.05" width="7.3" height="7.3" fill="#000" stroke-width="1.2"/>
<text x="224.5" y="1001.2" letter-spacing="0.4" stroke="#000" stroke-width="0.3">Huh-HCV</text>
<text x="224.5" y="1022" letter-spacing="0.4" stroke="#000" stroke-width="0.3">Huh</text>
<text x="224.5" y="1040.6" letter-spacing="0.4" stroke="#000" stroke-width="0.3">CpG-A</text>
<polyline points="66.25,958.75 110.6,971.4 155.6,1051.7 195.4,1062.8" fill="none" stroke-width="1.5"/>
<polyline points="66,996 110.6,992.9 155.6,1059.3 195.4,1067.3" fill="none" stroke-width="1.5"/>
<polyline points="65.8,1074 110.9,1075.2 155.6,1075.3 195.4,1075.3" fill="none" stroke-width="1.5"/>
<line x1="66.25" y1="953" x2="66.25" y2="963.75" stroke-width="1.1"/>
<line x1="63.25" y1="953" x2="69.25" y2="953" stroke-width="1.1"/>
<line x1="63.25" y1="963.75" x2="69.25" y2="963.75" stroke-width="1.1"/>
<line x1="66" y1="986" x2="66" y2="1005" stroke-width="1.1"/>
<line x1="63" y1="986" x2="69" y2="986" stroke-width="1.1"/>
<line x1="63" y1="1005" x2="69" y2="1005" stroke-width="1.1"/>
<rect x="62.5" y="955" width="7.5" height="7.5" fill="#000" stroke-width="1.2"/>
<rect x="106.85" y="967.65" width="7.5" height="7.5" fill="#000" stroke-width="1.2"/>
<rect x="151.85" y="1047.95" width="7.5" height="7.5" fill="#000" stroke-width="1.2"/>
<rect x="191.65" y="1059.05" width="7.5" height="7.5" fill="#000" stroke-width="1.2"/>
<circle cx="66" cy="996" r="3.9" fill="#000" stroke-width="1.2"/>
<circle cx="110.6" cy="992.9" r="3.9" fill="#000" stroke-width="1.2"/>
<circle cx="155.6" cy="1059.3" r="3.9" fill="#000" stroke-width="1.2"/>
<circle cx="195.4" cy="1067.3" r="3.9" fill="#000" stroke-width="1.2"/>
<circle cx="65.8" cy="1074" r="3.6" fill="#fff" stroke-width="1.2"/>
<circle cx="110.9" cy="1075.2" r="3.6" fill="#fff" stroke-width="1.2"/>
<circle cx="155.6" cy="1075.3" r="3.6" fill="#fff" stroke-width="1.2"/>
<circle cx="195.4" cy="1075.3" r="3.6" fill="#fff" stroke-width="1.2"/>
<text x="317.3" y="927.5" font-weight="bold" font-size="30" stroke="#000" stroke-width="0.3">H</text>
<line x1="348" y1="933.7" x2="348" y2="1077.6" stroke-width="1.2"/>
<line x1="344.7" y1="1053.2" x2="348" y2="1053.2" stroke-width="1.2"/>
<line x1="344.7" y1="1029.4" x2="348" y2="1029.4" stroke-width="1.2"/>
<line x1="344.7" y1="1005.6" x2="348" y2="1005.6" stroke-width="1.2"/>
<line x1="344.7" y1="981.8" x2="348" y2="981.8" stroke-width="1.2"/>
<line x1="344.7" y1="958" x2="348" y2="958" stroke-width="1.2"/>
<line x1="344.7" y1="934.2" x2="348" y2="934.2" stroke-width="1.2"/>
<line x1="347.4" y1="1077" x2="486.5" y2="1077" stroke-width="1.2"/>
<line x1="372.3" y1="1077" x2="372.3" y2="1080" stroke-width="1.2"/>
<line x1="396.6" y1="1077" x2="396.6" y2="1080" stroke-width="1.2"/>
<line x1="420.9" y1="1077" x2="420.9" y2="1080" stroke-width="1.2"/>
<line x1="445.2" y1="1077" x2="445.2" y2="1080" stroke-width="1.2"/>
<line x1="469.5" y1="1077" x2="469.5" y2="1080" stroke-width="1.2"/>
<text x="337.9" y="991.4" text-anchor="end" stroke="#000" stroke-width="0.3">2</text>
<text x="337.9" y="1038.4" text-anchor="end" stroke="#000" stroke-width="0.3">1</text>
<text x="337.9" y="1085.4" text-anchor="end" stroke="#000" stroke-width="0.3">0</text>
<text transform="translate(320.2 1069.5) rotate(-90)" letter-spacing="0.25" stroke="#000" stroke-width="0.3">IFN-λ (ng/ml)</text>
<text x="348.37" y="1100.4" stroke="#000" stroke-width="0.3">0</text>
<text x="396.28" y="1100.4" stroke="#000" stroke-width="0.3">1</text>
<text x="443.4" y="1100.4" stroke="#000" stroke-width="0.3">2</text>
<text x="374.5" y="1131.9" letter-spacing="0.25" stroke="#000" stroke-width="0.3">sE2 (µg/ml)</text>
<polyline points="348,958.75 391.6,988 433.8,1046 478.1,1066.3" fill="none" stroke-width="1.5"/>
<polyline points="348,996.25 391.6,1003.5 433.8,1052.8 478.1,1070" fill="none" stroke-width="1.5"/>
<polyline points="347.4,1075.4 391.3,1076 433.8,1076.2 478.1,1076.4" fill="none" stroke-width="1.5"/>
<line x1="348" y1="951" x2="348" y2="963.75" stroke-width="1.1"/>
<line x1="345" y1="951" x2="351" y2="951" stroke-width="1.1"/>
<line x1="345" y1="963.75" x2="351" y2="963.75" stroke-width="1.1"/>
<line x1="391.6" y1="977" x2="391.6" y2="996" stroke-width="1.1"/>
<line x1="388.6" y1="977" x2="394.6" y2="977" stroke-width="1.1"/>
<line x1="388.6" y1="996" x2="394.6" y2="996" stroke-width="1.1"/>
<line x1="348" y1="987.5" x2="348" y2="1006" stroke-width="1.1"/>
<line x1="345" y1="987.5" x2="351" y2="987.5" stroke-width="1.1"/>
<line x1="345" y1="1006" x2="351" y2="1006" stroke-width="1.1"/>
<line x1="433.8" y1="1039" x2="433.8" y2="1053" stroke-width="1.1"/>
<line x1="430.8" y1="1039" x2="436.8" y2="1039" stroke-width="1.1"/>
<line x1="430.8" y1="1053" x2="436.8" y2="1053" stroke-width="1.1"/>
<line x1="391.6" y1="998" x2="391.6" y2="1008" stroke-width="1.1"/>
<line x1="388.6" y1="998" x2="394.6" y2="998" stroke-width="1.1"/>
<line x1="388.6" y1="1008" x2="394.6" y2="1008" stroke-width="1.1"/>
<rect x="344.25" y="955" width="7.5" height="7.5" fill="#000" stroke-width="1.2"/>
<rect x="387.85" y="984.25" width="7.5" height="7.5" fill="#000" stroke-width="1.2"/>
<rect x="430.05" y="1042.25" width="7.5" height="7.5" fill="#000" stroke-width="1.2"/>
<rect x="474.35" y="1062.55" width="7.5" height="7.5" fill="#000" stroke-width="1.2"/>
<circle cx="348" cy="996.25" r="3.9" fill="#000" stroke-width="1.2"/>
<circle cx="391.6" cy="1003.5" r="3.9" fill="#000" stroke-width="1.2"/>
<circle cx="433.8" cy="1052.8" r="3.9" fill="#000" stroke-width="1.2"/>
<circle cx="478.1" cy="1070" r="3.9" fill="#000" stroke-width="1.2"/>
<circle cx="347.4" cy="1075.4" r="3.6" fill="#fff" stroke-width="1.2"/>
<circle cx="391.3" cy="1076" r="3.6" fill="#fff" stroke-width="1.2"/>
<circle cx="433.8" cy="1076.2" r="3.6" fill="#fff" stroke-width="1.2"/>
<circle cx="478.1" cy="1076.4" r="3.6" fill="#fff" stroke-width="1.2"/>
</svg>
</body></html>
